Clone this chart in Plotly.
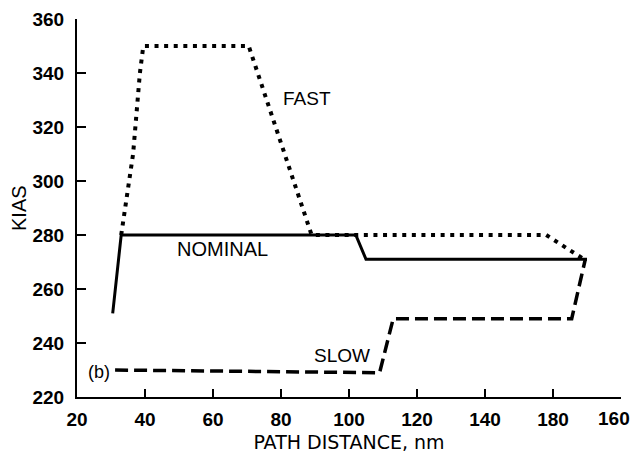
import plotly.graph_objects as go

# Data
fast_x = [33, 36.5, 38.5, 39.5, 70.5, 89, 158, 168.5]
fast_y = [280, 310, 340, 350, 350, 280, 280, 271.5]

nominal_x = [30.5, 33, 102, 105, 170]
nominal_y = [251, 280, 280, 271, 271]

slow_x = [31.2, 109, 113, 165.5, 169.5]
slow_y = [230, 229, 249, 249, 271]

x_tickvals = [20, 40, 60, 80, 100, 120, 140, 160, 180]
x_ticktext = ["20", "40", "60", "80", "100", "120", "140", "180", "160"]
y_tickvals = [220, 240, 260, 280, 300, 320, 340, 360]

labels = [
    ("FAST", 87.6, 330.4, 19),
    ("NOMINAL", 62.8, 274.8, 20),
    ("SLOW", 97.9, 235.4, 19),
    ("(b)", 26.6, 229.3, 18),
]

fig = go.Figure()
fig.add_trace(go.Scatter(x=fast_x, y=fast_y, mode="lines",
                         line=dict(color="black", width=4, dash="4px,5.6px"),
                         showlegend=False))
fig.add_trace(go.Scatter(x=nominal_x, y=nominal_y, mode="lines",
                         line=dict(color="black", width=3),
                         showlegend=False))
fig.add_trace(go.Scatter(x=slow_x, y=slow_y, mode="lines",
                         line=dict(color="black", width=3.5, dash="13px,6px"),
                         showlegend=False))

for txt, lx, ly, fs in labels:
    fig.add_annotation(x=lx, y=ly, text=txt, showarrow=False,
                       font=dict(family="Liberation Sans, Arial", size=fs, color="black"))

# y-axis title placed as a rotated annotation
fig.add_annotation(xref="paper", yref="paper", x=-0.1066, y=0.5, text="KIAS",
                   textangle=-90, showarrow=False, xanchor="center", yanchor="middle",
                   font=dict(family="Liberation Sans, Arial", size=20, color="black"))

tickfont = dict(family="Liberation Sans, Arial", size=19, color="black", weight="bold")

# last x tick label sits at the right edge: draw it slightly left of its tick so it stays visible
fig.add_annotation(xref="x", yref="paper", x=x_tickvals[-1], y=0, text=x_ticktext[-1],
                   showarrow=False, xanchor="center", yanchor="middle",
                   xshift=-7, yshift=-21, font=tickfont)
shown_ticktext = x_ticktext[:-1] + [""]

fig.update_layout(
    width=632, height=453,
    margin=dict(l=77, r=11, t=19, b=56),
    plot_bgcolor="white", paper_bgcolor="white",
    xaxis=dict(range=[20, 180], tickvals=x_tickvals, ticktext=shown_ticktext,
               automargin=False, ticklabeloverflow="allow",
               showgrid=False, zeroline=False, showline=True, linecolor="black",
               linewidth=2, ticks="inside", ticklen=8, tickwidth=1.5, tickcolor="black",
               tickfont=tickfont, ticklabelstandoff=4,
               title=dict(text="PATH DISTANCE, nm", standoff=20,
                          font=dict(family="DejaVu Sans", size=19, color="black"))),
    yaxis=dict(range=[220, 360], tickvals=y_tickvals, automargin=False,
               showgrid=False, zeroline=False, showline=True, linecolor="black",
               linewidth=2, ticks="inside", ticklen=9, tickwidth=1.5, tickcolor="black",
               tickfont=tickfont, ticklabelstandoff=7),
)

fig.write_html(
    "out.html",
    config={"displayModeBar": False},
    post_script="document.body.style.margin='0';document.body.style.overflow='hidden';",
)
